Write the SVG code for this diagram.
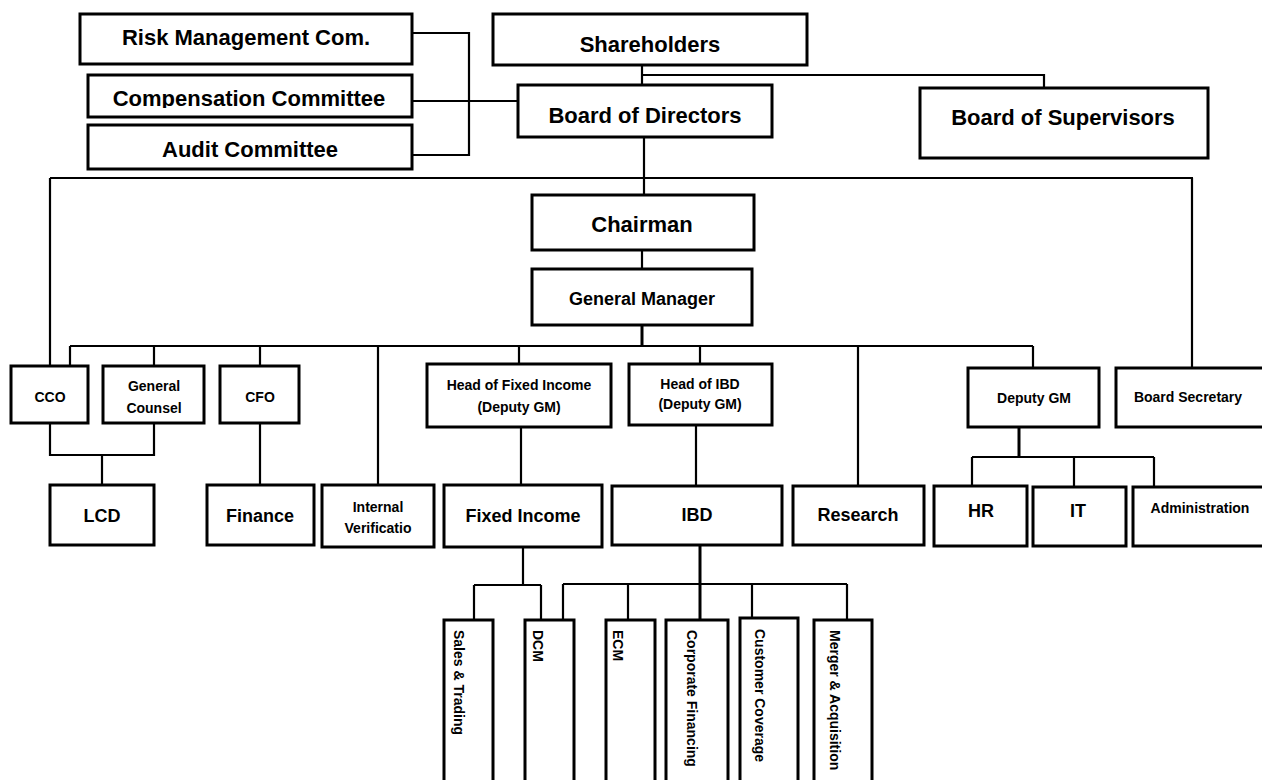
<svg xmlns="http://www.w3.org/2000/svg" width="1262" height="780" viewBox="0 0 1262 780">
<defs>
<style>
.box{fill:#fff;stroke:#000;stroke-width:3}
.ln{fill:none;stroke:#000;stroke-width:2.2}
.lt{fill:none;stroke:#000;stroke-width:3}
text{font-family:"Liberation Sans",Arial,sans-serif;font-weight:bold;fill:#000;text-anchor:middle}
.t22{font-size:22px}
.t18{font-size:18px}
.t14{font-size:14px}
.v{font-size:14px;text-anchor:start}
</style>
<clipPath id="compClip"><rect x="88" y="75" width="324" height="33"/></clipPath>
</defs>
<rect width="1262" height="780" fill="#fff"/>
<g id="connectors">
<path class="ln" d="M412,33 H469 V155 H412 M412,101 H518"/>
<path class="ln" d="M642,65 V85 M642,75 H1044 V88"/>
<path class="ln" d="M644,137 V195 M50,178 H1193 M50,178 V366 M1192,178 V368"/>
<path class="ln" d="M642,250 V269"/>
<path class="lt" d="M642,325 V346"/>
<path class="ln" d="M70,346 H1033 M70,346 V366 M154,346 V366 M260,346 V366 M378,346 V485 M519,346 V364 M700,346 V364 M858,346 V486 M1033,346 V368"/>
<path class="ln" d="M50,423 V455 H154 V423 M102,455 V485 M260,423 V485 M521,427 V485 M696,425 V486"/>
<path class="lt" d="M1019,427 V457"/>
<path class="ln" d="M972,457 H1154 M972,457 V487 M1074,457 V487 M1154,457 V487"/>
<path class="ln" d="M523,547 V585 M474,585 H541 M474,585 V620 M541,585 V620"/>
<path class="lt" d="M700,545 V620"/>
<path class="ln" d="M563,584 H847 M563,584 V620 M628,584 V620 M752,584 V618 M847,584 V620"/>
</g>
<g id="risk"><rect class="box" x="80" y="14" width="332" height="50"/><text class="t22" x="246" y="45">Risk Management Com.</text></g>
<g id="compensation"><rect class="box" x="88" y="75" width="324" height="42"/><text class="t22" x="249" y="106" clip-path="url(#compClip)">Compensation Committee</text></g>
<g id="audit"><rect class="box" x="88" y="125" width="324" height="44"/><text class="t22" x="250" y="157">Audit Committee</text></g>
<g id="shareholders"><rect class="box" x="493" y="14" width="314" height="51"/><text class="t22" x="650" y="52">Shareholders</text></g>
<g id="board-directors"><rect class="box" x="518" y="85" width="254" height="52"/><text class="t22" x="645" y="123">Board of Directors</text></g>
<g id="board-supervisors"><rect class="box" x="920" y="88" width="288" height="70"/><text class="t22" x="1063" y="125">Board of Supervisors</text></g>
<g id="chairman"><rect class="box" x="532" y="195" width="222" height="55"/><text class="t22" x="642" y="232">Chairman</text></g>
<g id="general-manager"><rect class="box" x="532" y="269" width="220" height="56"/><text class="t18" x="642" y="305">General Manager</text></g>
<g id="cco"><rect class="box" x="11" y="366" width="77" height="57"/><text class="t14" x="50" y="402">CCO</text></g>
<g id="general-counsel"><rect class="box" x="103" y="366" width="101" height="57"/><text class="t14" x="154" y="391">General</text><text class="t14" x="154" y="413">Counsel</text></g>
<g id="cfo"><rect class="box" x="220" y="366" width="79" height="57"/><text class="t14" x="260" y="402">CFO</text></g>
<g id="head-fi"><rect class="box" x="427" y="364" width="184" height="63"/><text class="t14" x="519" y="390">Head of Fixed Income</text><text class="t14" x="519" y="412">(Deputy GM)</text></g>
<g id="head-ibd"><rect class="box" x="629" y="364" width="143" height="61"/><text class="t14" x="700" y="389">Head of IBD</text><text class="t14" x="700" y="409">(Deputy GM)</text></g>
<g id="deputy-gm"><rect class="box" x="968" y="368" width="131" height="59"/><text class="t14" x="1034" y="403">Deputy GM</text></g>
<g id="board-secretary"><rect class="box" x="1116" y="368" width="150" height="59"/><text class="t14" x="1188" y="402">Board Secretary</text></g>
<g id="lcd"><rect class="box" x="50" y="485" width="104" height="60"/><text class="t18" x="102" y="522">LCD</text></g>
<g id="finance"><rect class="box" x="207" y="485" width="107" height="60"/><text class="t18" x="260" y="522">Finance</text></g>
<g id="internal-verification"><rect class="box" x="322" y="485" width="112" height="62"/><text class="t14" x="378" y="512">Internal</text><text class="t14" x="378" y="533">Verificatio</text></g>
<g id="fixed-income"><rect class="box" x="444" y="485" width="158" height="62"/><text class="t18" x="523" y="522">Fixed Income</text></g>
<g id="ibd"><rect class="box" x="612" y="486" width="170" height="59"/><text class="t18" x="697" y="521">IBD</text></g>
<g id="research"><rect class="box" x="793" y="486" width="131" height="59"/><text class="t18" x="858" y="521">Research</text></g>
<g id="hr"><rect class="box" x="934" y="486" width="93" height="60"/><text class="t18" x="981" y="517">HR</text></g>
<g id="it"><rect class="box" x="1033" y="487" width="93" height="59"/><text class="t18" x="1078" y="517">IT</text></g>
<g id="administration"><rect class="box" x="1133" y="487" width="133" height="59"/><text class="t14" x="1200" y="513">Administration</text></g>
<g id="sales-trading"><rect class="box" x="444" y="620" width="49" height="175"/><text class="v" transform="translate(454,630) rotate(90)">Sales &amp; Trading</text></g>
<g id="dcm"><rect class="box" x="525" y="620" width="49" height="175"/><text class="v" transform="translate(533,630) rotate(90)">DCM</text></g>
<g id="ecm"><rect class="box" x="606" y="620" width="49" height="175"/><text class="v" transform="translate(613,630) rotate(90)">ECM</text></g>
<g id="corporate-financing"><rect class="box" x="666" y="620" width="62" height="175"/><text class="v" transform="translate(687,630) rotate(90)">Corporate Financing</text></g>
<g id="customer-coverage"><rect class="box" x="740" y="618" width="58" height="177"/><text class="v" transform="translate(755,629) rotate(90)">Customer Coverage</text></g>
<g id="merger-acquisition"><rect class="box" x="814" y="620" width="58" height="175"/><text class="v" transform="translate(830,630) rotate(90)">Merger &amp; Acquisition</text></g>
</svg>
